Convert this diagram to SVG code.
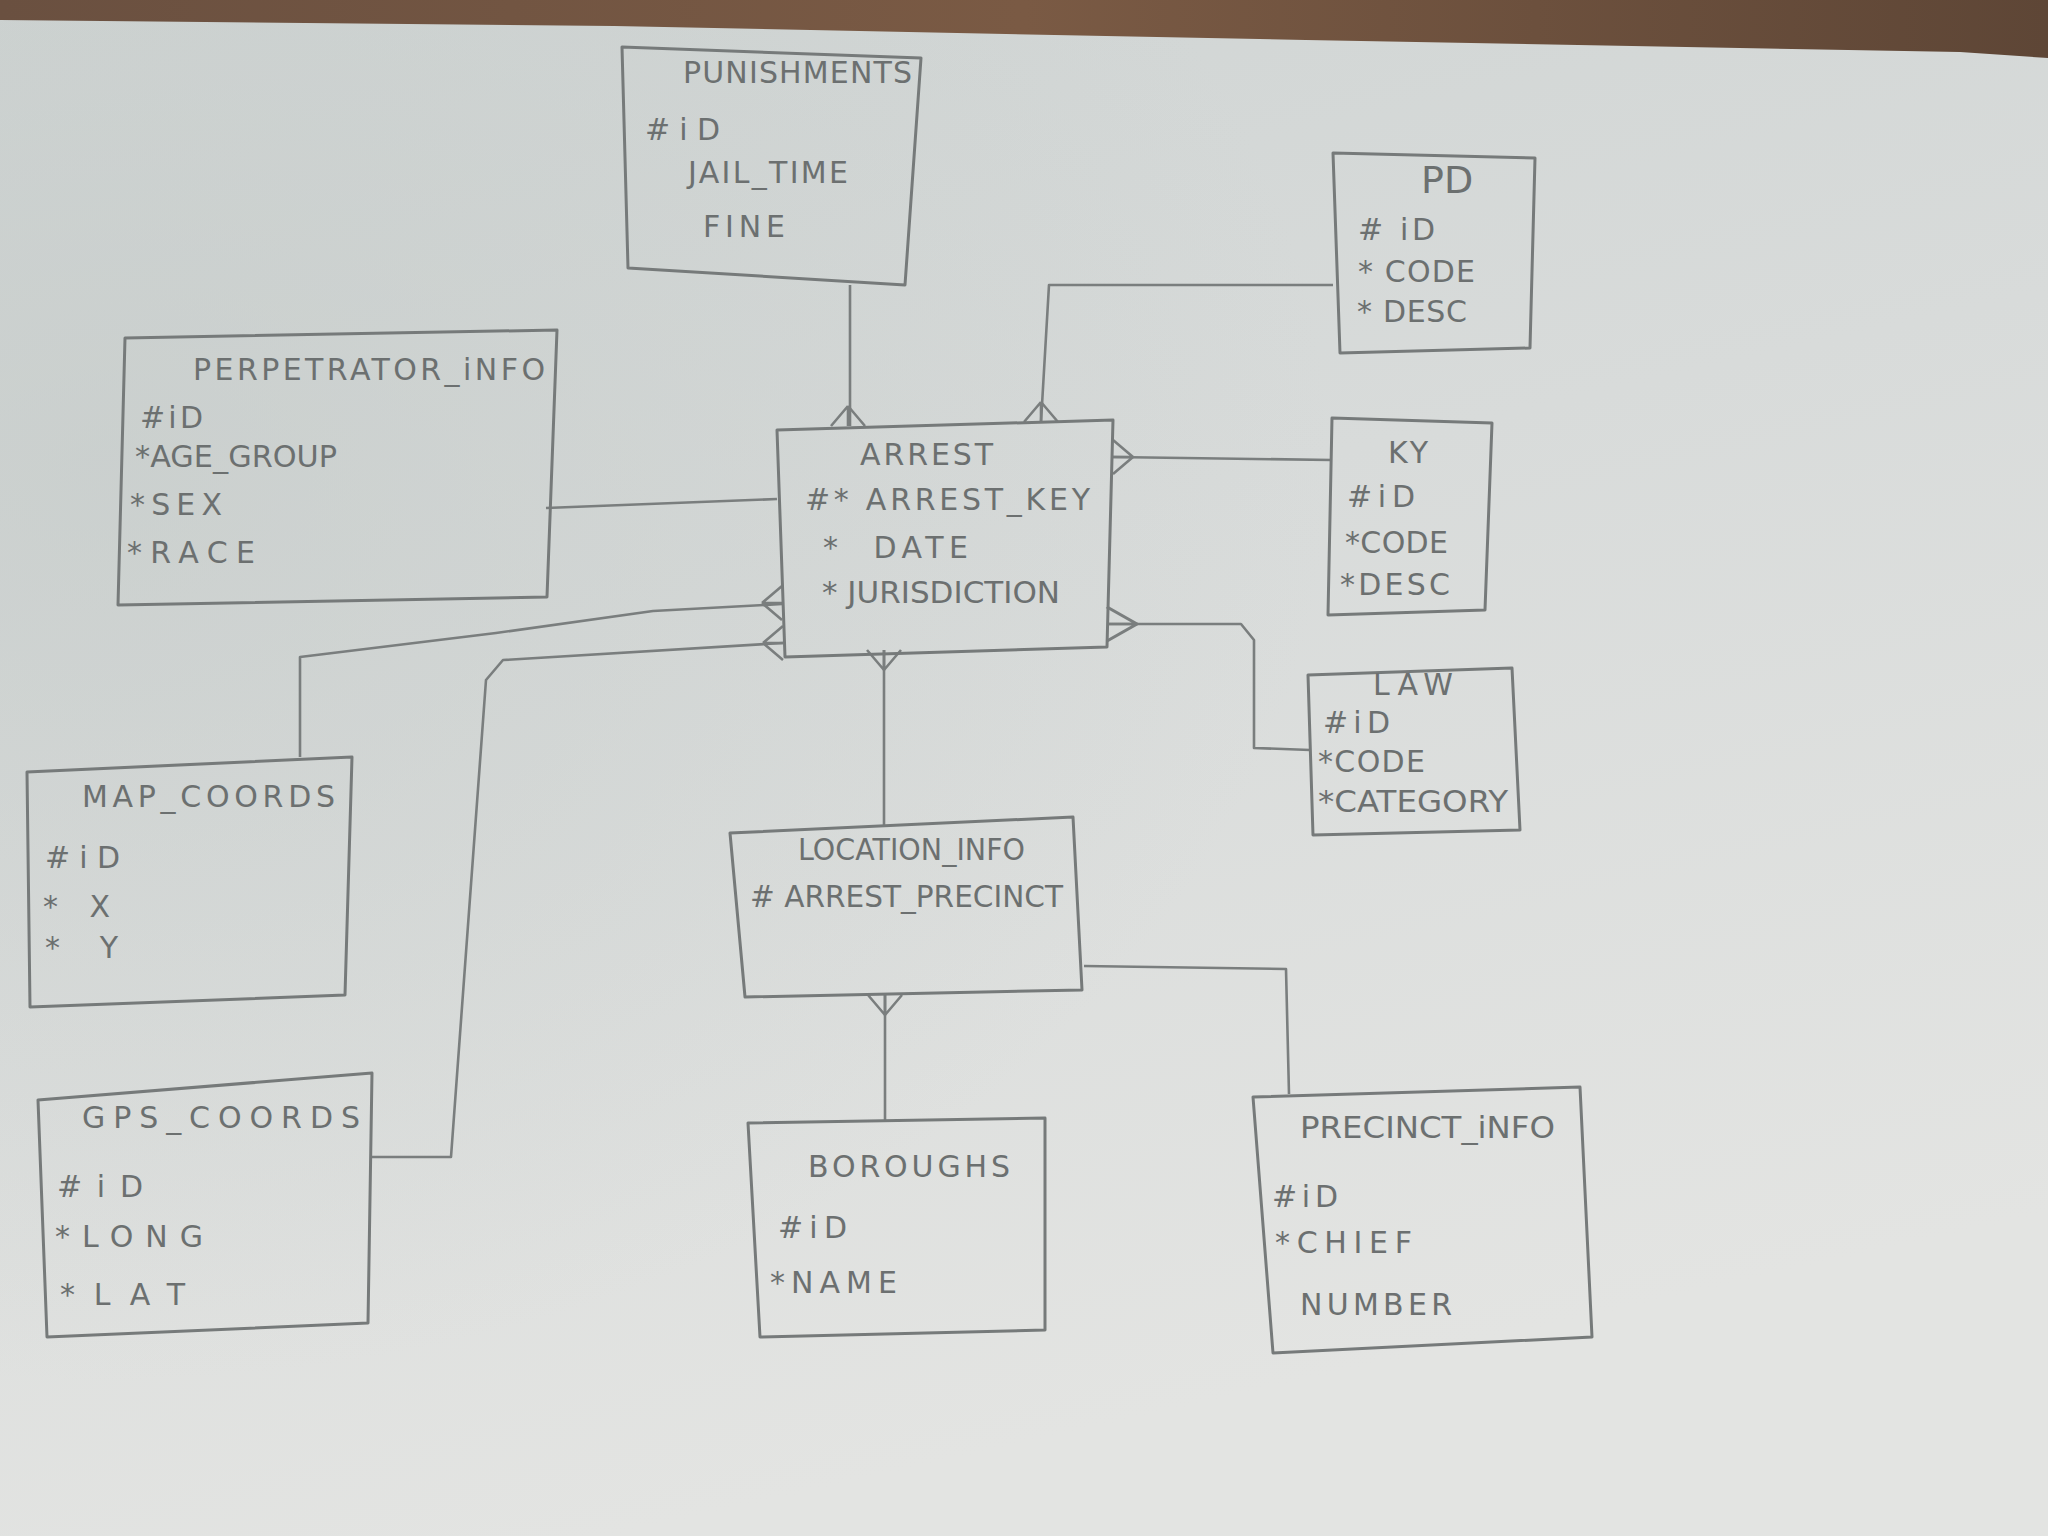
<svg xmlns="http://www.w3.org/2000/svg" width="2048" height="1536" viewBox="0 0 2048 1536">
<defs>
<linearGradient id="paper" x1="0" y1="0" x2="0.3" y2="1">
<stop offset="0" stop-color="#cfd4d3"/>
<stop offset="0.45" stop-color="#d8dbda"/>
<stop offset="1" stop-color="#e3e4e2"/>
</linearGradient>
<radialGradient id="shade" cx="0.05" cy="0.3" r="0.6">
<stop offset="0" stop-color="#c4cac8" stop-opacity="0.6"/>
<stop offset="1" stop-color="#c4cac8" stop-opacity="0"/>
</radialGradient>
<linearGradient id="wood" x1="0" y1="0" x2="1" y2="0">
<stop offset="0" stop-color="#6a5040"/>
<stop offset="0.5" stop-color="#7a5a44"/>
<stop offset="1" stop-color="#5e4636"/>
</linearGradient>
<path id="crow" d="M-17,0 L0,-20 M0,0 L0,-20 M17,0 L0,-20"/>
<style>
.box{fill:none;stroke:#767a7a;stroke-width:3;stroke-linejoin:round}
.ln{fill:none;stroke:#7a7e7e;stroke-width:2.6;stroke-linejoin:round}
.cf{fill:none;stroke:#7a7e7e;stroke-width:2.6}
text{font-family:"DejaVu Sans","Liberation Sans",sans-serif;fill:#6c7070}
.t{font-size:30px}
.a{font-size:30px}
</style>
</defs>
<rect width="2048" height="1536" fill="url(#paper)"/>
<rect width="2048" height="1536" fill="url(#shade)"/>
<polygon points="0,0 2048,0 2048,58 1960,52 1306,40 614,26 0,20" fill="url(#wood)"/>

<g id="connectors">
<polyline class="ln" points="850,285 850,426"/>
<polyline class="ln" points="1333,285 1049,285 1041,422"/>
<polyline class="ln" points="1113,457 1332,460"/>
<polyline class="ln" points="1107,624 1241,624 1254,640 1254,748 1310,750"/>
<polyline class="ln" points="546,508 777,499"/>
<polyline class="ln" points="300,757 300,657 496,633 653,611 782,604"/>
<polyline class="ln" points="370,1157 451,1157 486,680 503,660 783,643"/>
<polyline class="ln" points="884,650 884,826"/>
<polyline class="ln" points="885,995 885,1120"/>
<polyline class="ln" points="1084,966 1286,969 1289,1094"/>
<use href="#crow" class="cf" transform="translate(848,426)"/>
<use href="#crow" class="cf" transform="translate(1041,422)"/>
<use href="#crow" class="cf" transform="translate(1113,457) rotate(90)"/>
<use href="#crow" class="cf" transform="translate(1107,624) rotate(90) scale(1,1.5)"/>
<use href="#crow" class="cf" transform="translate(884,650) rotate(180)"/>
<use href="#crow" class="cf" transform="translate(782,603) rotate(-90)"/>
<use href="#crow" class="cf" transform="translate(783,643) rotate(-90)"/>
<use href="#crow" class="cf" transform="translate(885,995) rotate(180)"/>
</g>

<g id="punishments">
<polygon class="box" points="622,47 921,58 905,285 628,268"/>
<text class="t" x="683" y="83" textLength="229">PUNISHMENTS</text>
<text class="a" x="645" y="140" textLength="75">#iD</text>
<text class="a" x="688" y="183" textLength="160">JAIL_TIME</text>
<text class="a" x="703" y="237" textLength="82">FINE</text>
</g>

<g id="pd">
<polygon class="box" points="1333,153 1535,158 1530,348 1340,353"/>
<text x="1421" y="193" font-size="38">PD</text>
<text class="a" x="1358" y="240" textLength="77" xml:space="preserve"># iD</text>
<text class="a" x="1358" y="282" textLength="117">* CODE</text>
<text class="a" x="1357" y="322" textLength="110">* DESC</text>
</g>

<g id="perpetrator_info">
<polygon class="box" points="125,338 557,330 547,597 118,605"/>
<text class="t" x="193" y="380" textLength="352">PERPETRATOR_iNFO</text>
<text class="a" x="140" y="428" textLength="63">#iD</text>
<text class="a" x="135" y="467" textLength="202" lengthAdjust="spacingAndGlyphs">*AGE_GROUP</text>
<text class="a" x="130" y="515" textLength="92">*SEX</text>
<text class="a" x="127" y="563" textLength="128">*RACE</text>
</g>

<g id="arrest">
<polygon class="box" points="777,430 1113,420 1107,647 785,657"/>
<text class="t" x="860" y="465" textLength="133">ARREST</text>
<text class="a" x="805" y="510" textLength="285">#* ARREST_KEY</text>
<text class="a" x="823" y="558" textLength="145" xml:space="preserve">*  DATE</text>
<text class="a" x="822" y="603" textLength="238" lengthAdjust="spacingAndGlyphs">* JURISDICTION</text>
</g>

<g id="ky">
<polygon class="box" points="1332,418 1492,423 1485,610 1328,615"/>
<text class="t" x="1388" y="463" textLength="40">KY</text>
<text class="a" x="1347" y="507" textLength="68">#iD</text>
<text class="a" x="1345" y="553" textLength="103">*CODE</text>
<text class="a" x="1340" y="595" textLength="110">*DESC</text>
</g>

<g id="law">
<polygon class="box" points="1308,675 1512,668 1520,830 1313,835"/>
<text class="t" x="1373" y="695" textLength="80">LAW</text>
<text class="a" x="1323" y="733" textLength="67">#iD</text>
<text class="a" x="1318" y="772" textLength="107">*CODE</text>
<text class="a" x="1318" y="812" textLength="190" lengthAdjust="spacingAndGlyphs">*CATEGORY</text>
</g>

<g id="map_coords">
<polygon class="box" points="27,772 352,757 345,995 30,1007"/>
<text class="t" x="82" y="807" textLength="253">MAP_COORDS</text>
<text class="a" x="45" y="868" textLength="75">#iD</text>
<text class="a" x="43" y="917" textLength="67">*X</text>
<text class="a" x="45" y="958" textLength="73">*Y</text>
</g>

<g id="gps_coords">
<polygon class="box" points="38,1100 372,1073 368,1323 47,1337"/>
<text class="t" x="82" y="1128" textLength="278">GPS_COORDS</text>
<text class="a" x="57" y="1197" textLength="86">#iD</text>
<text class="a" x="55" y="1247" textLength="148">*LONG</text>
<text class="a" x="60" y="1305" textLength="125">*LAT</text>
</g>

<g id="location_info">
<polygon class="box" points="730,833 1073,817 1082,990 745,997"/>
<text class="t" x="798" y="860" textLength="227" lengthAdjust="spacingAndGlyphs">LOCATION_INFO</text>
<text class="a" x="750" y="907" textLength="313" lengthAdjust="spacingAndGlyphs"># ARREST_PRECINCT</text>
</g>

<g id="boroughs">
<polygon class="box" points="748,1123 1045,1118 1045,1330 760,1337"/>
<text class="t" x="808" y="1177" textLength="202">BOROUGHS</text>
<text class="a" x="778" y="1238" textLength="69">#iD</text>
<text class="a" x="770" y="1293" textLength="127">*NAME</text>
</g>

<g id="precinct_info">
<polygon class="box" points="1253,1097 1580,1087 1592,1337 1273,1353"/>
<text class="t" x="1300" y="1138" textLength="255" lengthAdjust="spacingAndGlyphs">PRECINCT_iNFO</text>
<text class="a" x="1272" y="1207" textLength="66">#iD</text>
<text class="a" x="1275" y="1253" textLength="137">*CHIEF</text>
<text class="a" x="1300" y="1315" textLength="152">NUMBER</text>
</g>
</svg>
